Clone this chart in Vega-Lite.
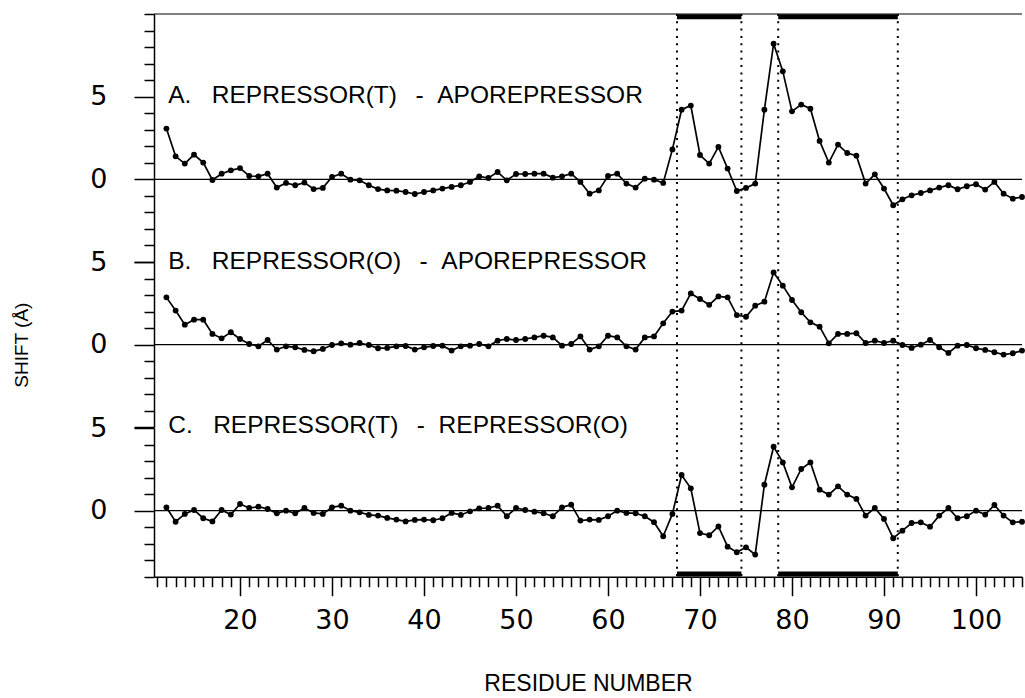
{
  "$schema": "https://vega.github.io/schema/vega-lite/v6.json",
  "autosize": {"type": "pad"},
  "padding": {"left": 12, "top": 0, "right": 0, "bottom": 0},
  "background": "white",
  "spacing": 0,
  "bounds": "flush",
  "config": {
    "view": {"stroke": null},
    "axis": {"labelFont": "DejaVu Sans", "labelFontSize": 27, "labelColor": "black", "labelOverlap": false, "labelBound": false, "labelFlush": false,
             "domainColor": "black", "domainWidth": 1.5, "tickColor": "black", "tickWidth": 1.5, "grid": false,
             "titleFont": "Liberation Sans", "titleFontWeight": "normal", "titleColor": "black"},
    "axisX": {"titleFontSize": 23, "titlePadding": 39},
    "axisY": {"titleFontSize": 19, "titlePadding": 58}
  },
  "datasets": {
    "A": [
      {"residue":12,"shift":3.07},{"residue":13,"shift":1.39},{"residue":14,"shift":0.95},{"residue":15,"shift":1.49},{"residue":16,"shift":1.01},{"residue":17,"shift":-0.04},{"residue":18,"shift":0.34},{"residue":19,"shift":0.54},{"residue":20,"shift":0.68},{"residue":21,"shift":0.2},{"residue":22,"shift":0.18},{"residue":23,"shift":0.34},{"residue":24,"shift":-0.5},{"residue":25,"shift":-0.22},{"residue":26,"shift":-0.36},{"residue":27,"shift":-0.2},{"residue":28,"shift":-0.59},{"residue":29,"shift":-0.52},{"residue":30,"shift":0.14},{"residue":31,"shift":0.34},{"residue":32,"shift":-0.02},{"residue":33,"shift":-0.06},{"residue":34,"shift":-0.36},{"residue":35,"shift":-0.59},{"residue":36,"shift":-0.67},{"residue":37,"shift":-0.69},{"residue":38,"shift":-0.77},{"residue":39,"shift":-0.89},{"residue":40,"shift":-0.77},{"residue":41,"shift":-0.67},{"residue":42,"shift":-0.56},{"residue":43,"shift":-0.46},{"residue":44,"shift":-0.36},{"residue":45,"shift":-0.16},{"residue":46,"shift":0.18},{"residue":47,"shift":0.08},{"residue":48,"shift":0.44},{"residue":49,"shift":-0.06},{"residue":50,"shift":0.32},{"residue":51,"shift":0.32},{"residue":52,"shift":0.34},{"residue":53,"shift":0.34},{"residue":54,"shift":0.1},{"residue":55,"shift":0.18},{"residue":56,"shift":0.34},{"residue":57,"shift":-0.16},{"residue":58,"shift":-0.87},{"residue":59,"shift":-0.67},{"residue":60,"shift":0.2},{"residue":61,"shift":0.34},{"residue":62,"shift":-0.26},{"residue":63,"shift":-0.5},{"residue":64,"shift":0.04},{"residue":65,"shift":-0.02},{"residue":66,"shift":-0.22},{"residue":67,"shift":1.81},{"residue":68,"shift":4.21},{"residue":69,"shift":4.46},{"residue":70,"shift":1.47},{"residue":71,"shift":0.95},{"residue":72,"shift":1.96},{"residue":73,"shift":0.65},{"residue":74,"shift":-0.71},{"residue":75,"shift":-0.52},{"residue":76,"shift":-0.26},{"residue":77,"shift":4.21},{"residue":78,"shift":8.2},{"residue":79,"shift":6.53},{"residue":80,"shift":4.11},{"residue":81,"shift":4.52},{"residue":82,"shift":4.27},{"residue":83,"shift":2.32},{"residue":84,"shift":1.01},{"residue":85,"shift":2.1},{"residue":86,"shift":1.59},{"residue":87,"shift":1.43},{"residue":88,"shift":-0.26},{"residue":89,"shift":0.3},{"residue":90,"shift":-0.56},{"residue":91,"shift":-1.57},{"residue":92,"shift":-1.21},{"residue":93,"shift":-0.97},{"residue":94,"shift":-0.83},{"residue":95,"shift":-0.67},{"residue":96,"shift":-0.5},{"residue":97,"shift":-0.36},{"residue":98,"shift":-0.6},{"residue":99,"shift":-0.42},{"residue":100,"shift":-0.3},{"residue":101,"shift":-0.62},{"residue":102,"shift":-0.16},{"residue":103,"shift":-0.87},{"residue":104,"shift":-1.17},{"residue":105,"shift":-1.07}
    ],
    "B": [
      {"residue":12,"shift":2.86},{"residue":13,"shift":2.06},{"residue":14,"shift":1.21},{"residue":15,"shift":1.51},{"residue":16,"shift":1.51},{"residue":17,"shift":0.65},{"residue":18,"shift":0.38},{"residue":19,"shift":0.75},{"residue":20,"shift":0.34},{"residue":21,"shift":0.04},{"residue":22,"shift":-0.1},{"residue":23,"shift":0.28},{"residue":24,"shift":-0.3},{"residue":25,"shift":-0.1},{"residue":26,"shift":-0.16},{"residue":27,"shift":-0.32},{"residue":28,"shift":-0.4},{"residue":29,"shift":-0.26},{"residue":30,"shift":-0.02},{"residue":31,"shift":0.08},{"residue":32,"shift":0.0},{"residue":33,"shift":0.1},{"residue":34,"shift":-0.02},{"residue":35,"shift":-0.22},{"residue":36,"shift":-0.2},{"residue":37,"shift":-0.1},{"residue":38,"shift":-0.08},{"residue":39,"shift":-0.3},{"residue":40,"shift":-0.16},{"residue":41,"shift":-0.08},{"residue":42,"shift":-0.06},{"residue":43,"shift":-0.36},{"residue":44,"shift":-0.1},{"residue":45,"shift":-0.06},{"residue":46,"shift":0.04},{"residue":47,"shift":-0.1},{"residue":48,"shift":0.24},{"residue":49,"shift":0.34},{"residue":50,"shift":0.28},{"residue":51,"shift":0.34},{"residue":52,"shift":0.44},{"residue":53,"shift":0.54},{"residue":54,"shift":0.44},{"residue":55,"shift":-0.06},{"residue":56,"shift":0.04},{"residue":57,"shift":0.5},{"residue":58,"shift":-0.3},{"residue":59,"shift":-0.1},{"residue":60,"shift":0.54},{"residue":61,"shift":0.44},{"residue":62,"shift":-0.1},{"residue":63,"shift":-0.3},{"residue":64,"shift":0.44},{"residue":65,"shift":0.5},{"residue":66,"shift":1.29},{"residue":67,"shift":2.0},{"residue":68,"shift":2.06},{"residue":69,"shift":3.1},{"residue":70,"shift":2.76},{"residue":71,"shift":2.41},{"residue":72,"shift":2.92},{"residue":73,"shift":2.86},{"residue":74,"shift":1.79},{"residue":75,"shift":1.69},{"residue":76,"shift":2.36},{"residue":77,"shift":2.6},{"residue":78,"shift":4.37},{"residue":79,"shift":3.57},{"residue":80,"shift":2.7},{"residue":81,"shift":1.96},{"residue":82,"shift":1.35},{"residue":83,"shift":1.09},{"residue":84,"shift":0.08},{"residue":85,"shift":0.65},{"residue":86,"shift":0.65},{"residue":87,"shift":0.69},{"residue":88,"shift":0.1},{"residue":89,"shift":0.24},{"residue":90,"shift":0.1},{"residue":91,"shift":0.24},{"residue":92,"shift":-0.02},{"residue":93,"shift":-0.2},{"residue":94,"shift":0.0},{"residue":95,"shift":0.28},{"residue":96,"shift":-0.16},{"residue":97,"shift":-0.5},{"residue":98,"shift":-0.06},{"residue":99,"shift":-0.02},{"residue":100,"shift":-0.22},{"residue":101,"shift":-0.32},{"residue":102,"shift":-0.46},{"residue":103,"shift":-0.6},{"residue":104,"shift":-0.52},{"residue":105,"shift":-0.36}
    ],
    "C": [
      {"residue":12,"shift":0.2},{"residue":13,"shift":-0.67},{"residue":14,"shift":-0.2},{"residue":15,"shift":0.04},{"residue":16,"shift":-0.46},{"residue":17,"shift":-0.65},{"residue":18,"shift":0.04},{"residue":19,"shift":-0.24},{"residue":20,"shift":0.4},{"residue":21,"shift":0.16},{"residue":22,"shift":0.24},{"residue":23,"shift":0.1},{"residue":24,"shift":-0.16},{"residue":25,"shift":0.0},{"residue":26,"shift":-0.16},{"residue":27,"shift":0.16},{"residue":28,"shift":-0.14},{"residue":29,"shift":-0.2},{"residue":30,"shift":0.2},{"residue":31,"shift":0.3},{"residue":32,"shift":0.0},{"residue":33,"shift":-0.1},{"residue":34,"shift":-0.26},{"residue":35,"shift":-0.3},{"residue":36,"shift":-0.44},{"residue":37,"shift":-0.54},{"residue":38,"shift":-0.65},{"residue":39,"shift":-0.56},{"residue":40,"shift":-0.54},{"residue":41,"shift":-0.58},{"residue":42,"shift":-0.46},{"residue":43,"shift":-0.14},{"residue":44,"shift":-0.26},{"residue":45,"shift":-0.04},{"residue":46,"shift":0.14},{"residue":47,"shift":0.16},{"residue":48,"shift":0.3},{"residue":49,"shift":-0.34},{"residue":50,"shift":0.16},{"residue":51,"shift":0.04},{"residue":52,"shift":-0.06},{"residue":53,"shift":-0.16},{"residue":54,"shift":-0.34},{"residue":55,"shift":0.2},{"residue":56,"shift":0.36},{"residue":57,"shift":-0.6},{"residue":58,"shift":-0.54},{"residue":59,"shift":-0.56},{"residue":60,"shift":-0.34},{"residue":61,"shift":0.0},{"residue":62,"shift":-0.14},{"residue":63,"shift":-0.16},{"residue":64,"shift":-0.34},{"residue":65,"shift":-0.7},{"residue":66,"shift":-1.55},{"residue":67,"shift":-0.2},{"residue":68,"shift":2.16},{"residue":69,"shift":1.35},{"residue":70,"shift":-1.36},{"residue":71,"shift":-1.49},{"residue":72,"shift":-0.96},{"residue":73,"shift":-2.18},{"residue":74,"shift":-2.52},{"residue":75,"shift":-2.22},{"residue":76,"shift":-2.66},{"residue":77,"shift":1.57},{"residue":78,"shift":3.87},{"residue":79,"shift":2.92},{"residue":80,"shift":1.41},{"residue":81,"shift":2.52},{"residue":82,"shift":2.92},{"residue":83,"shift":1.27},{"residue":84,"shift":0.97},{"residue":85,"shift":1.47},{"residue":86,"shift":0.97},{"residue":87,"shift":0.71},{"residue":88,"shift":-0.3},{"residue":89,"shift":0.16},{"residue":90,"shift":-0.5},{"residue":91,"shift":-1.67},{"residue":92,"shift":-1.21},{"residue":93,"shift":-0.75},{"residue":94,"shift":-0.71},{"residue":95,"shift":-0.97},{"residue":96,"shift":-0.3},{"residue":97,"shift":0.16},{"residue":98,"shift":-0.46},{"residue":99,"shift":-0.34},{"residue":100,"shift":0.0},{"residue":101,"shift":-0.24},{"residue":102,"shift":0.34},{"residue":103,"shift":-0.3},{"residue":104,"shift":-0.71},{"residue":105,"shift":-0.67}
    ],
    "bounds": [{"b":67.5},{"b":74.5},{"b":78.5},{"b":91.5}],
    "segments": [{"start":67.5,"end":74.5},{"start":78.5,"end":91.5}]
  },
  "vconcat": [
    {
      "width": 868, "height": 247.95,
      "layer": [
        {"data": {"name": "A"}, "mark": {"type": "line", "color": "black", "strokeWidth": 1.7},
         "encoding": {
           "x": {"field": "residue", "type": "quantitative", "scale": {"domain": [10.65, 105.0], "nice": false, "zero": false}, "axis": null},
           "y": {"field": "shift", "type": "quantitative", "title": null, "scale": {"domain": [-5, 10], "nice": false, "zero": false},
                 "axis": {"values": [-5,-4,-3,-2,-1,0,1,2,3,4,5,6,7,8,9,10], "labelExpr": "datum.value === 0 || datum.value === 5 ? datum.label : ''", "tickSize": {"condition": {"test": "datum.value === 0 || datum.value === 5 || datum.value === -5", "value": 20}, "value": 10}, "labelPadding": 27}}}},
        {"data": {"name": "A"}, "mark": {"type": "circle", "color": "black", "opacity": 1, "size": 34},
         "encoding": {
           "x": {"field": "residue", "type": "quantitative", "axis": null},
           "y": {"field": "shift", "type": "quantitative", "title": null,
                 "axis": {"values": [-5,-4,-3,-2,-1,0,1,2,3,4,5,6,7,8,9,10], "labelExpr": "datum.value === 0 || datum.value === 5 ? datum.label : ''", "tickSize": {"condition": {"test": "datum.value === 0 || datum.value === 5 || datum.value === -5", "value": 20}, "value": 10}, "labelPadding": 27}}}},
        {"data": {"values": [{"y": 0}, {"y": 10}]}, "mark": {"type": "rule", "color": "black", "strokeWidth": 1.2},
         "encoding": {
           "y": {"field": "y", "type": "quantitative", "title": null,
                 "axis": {"values": [-5,-4,-3,-2,-1,0,1,2,3,4,5,6,7,8,9,10], "labelExpr": "datum.value === 0 || datum.value === 5 ? datum.label : ''", "tickSize": {"condition": {"test": "datum.value === 0 || datum.value === 5 || datum.value === -5", "value": 20}, "value": 10}, "labelPadding": 27}}}},
        {"data": {"name": "bounds"}, "mark": {"type": "rule", "color": "black", "strokeWidth": 2, "strokeDash": [2, 5.3]},
         "encoding": {"x": {"field": "b", "type": "quantitative", "axis": null}}},
        {"data": {"name": "segments"}, "mark": {"type": "rule", "color": "black", "strokeWidth": 5},
         "encoding": {
           "x": {"field": "start", "type": "quantitative", "axis": null}, "x2": {"field": "end"},
           "y": {"datum": 9.84, "type": "quantitative", "title": null,
                 "axis": {"values": [-5,-4,-3,-2,-1,0,1,2,3,4,5,6,7,8,9,10], "labelExpr": "datum.value === 0 || datum.value === 5 ? datum.label : ''", "tickSize": {"condition": {"test": "datum.value === 0 || datum.value === 5 || datum.value === -5", "value": 20}, "value": 10}, "labelPadding": 27}}}},
        {"data": {"values": [{"label": "A.\u00a0\u00a0\u00a0REPRESSOR(T)\u00a0\u00a0\u2009-\u00a0\u00a0APOREPRESSOR"}]},
         "mark": {"type": "text", "align": "left", "baseline": "middle", "font": "Liberation Sans", "fontSize": 24.5, "color": "black"},
         "encoding": {
           "x": {"datum": 12.2, "type": "quantitative", "axis": null},
           "y": {"datum": 5.05, "type": "quantitative", "title": null,
                 "axis": {"values": [-5,-4,-3,-2,-1,0,1,2,3,4,5,6,7,8,9,10], "labelExpr": "datum.value === 0 || datum.value === 5 ? datum.label : ''", "tickSize": {"condition": {"test": "datum.value === 0 || datum.value === 5 || datum.value === -5", "value": 20}, "value": 10}, "labelPadding": 27}},
           "text": {"field": "label"}}}
      ]
    },
    {
      "width": 868, "height": 165.3,
      "layer": [
        {"data": {"name": "B"}, "mark": {"type": "line", "color": "black", "strokeWidth": 1.7},
         "encoding": {
           "x": {"field": "residue", "type": "quantitative", "scale": {"domain": [10.65, 105.0], "nice": false, "zero": false}, "axis": null},
           "y": {"field": "shift", "type": "quantitative", "title": "SHIFT (Å)", "scale": {"domain": [-5, 5], "nice": false, "zero": false},
                 "axis": {"values": [-5,-4,-3,-2,-1,0,1,2,3,4,5], "labelExpr": "datum.value === 0 || datum.value === 5 ? datum.label : ''", "tickSize": {"condition": {"test": "datum.value % 5 === 0", "value": 20}, "value": 10}, "labelPadding": 27}}}},
        {"data": {"name": "B"}, "mark": {"type": "circle", "color": "black", "opacity": 1, "size": 34},
         "encoding": {
           "x": {"field": "residue", "type": "quantitative", "axis": null},
           "y": {"field": "shift", "type": "quantitative", "title": "SHIFT (Å)",
                 "axis": {"values": [-5,-4,-3,-2,-1,0,1,2,3,4,5], "labelExpr": "datum.value === 0 || datum.value === 5 ? datum.label : ''", "tickSize": {"condition": {"test": "datum.value % 5 === 0", "value": 20}, "value": 10}, "labelPadding": 27}}}},
        {"data": {"values": [{"y": 0}]}, "mark": {"type": "rule", "color": "black", "strokeWidth": 1.2},
         "encoding": {
           "y": {"field": "y", "type": "quantitative", "title": "SHIFT (Å)",
                 "axis": {"values": [-5,-4,-3,-2,-1,0,1,2,3,4,5], "labelExpr": "datum.value === 0 || datum.value === 5 ? datum.label : ''", "tickSize": {"condition": {"test": "datum.value % 5 === 0", "value": 20}, "value": 10}, "labelPadding": 27}}}},
        {"data": {"name": "bounds"}, "mark": {"type": "rule", "color": "black", "strokeWidth": 2, "strokeDash": [2, 5.3]},
         "encoding": {"x": {"field": "b", "type": "quantitative", "axis": null}}},
        {"data": {"values": [{"label": "B.\u00a0\u00a0\u00a0REPRESSOR(O)\u00a0\u00a0\u2009-\u00a0\u00a0APOREPRESSOR"}]},
         "mark": {"type": "text", "align": "left", "baseline": "middle", "font": "Liberation Sans", "fontSize": 24.5, "color": "black"},
         "encoding": {
           "x": {"datum": 12.2, "type": "quantitative", "axis": null},
           "y": {"datum": 5.0, "type": "quantitative", "title": "SHIFT (Å)",
                 "axis": {"values": [-5,-4,-3,-2,-1,0,1,2,3,4,5], "labelExpr": "datum.value === 0 || datum.value === 5 ? datum.label : ''", "tickSize": {"condition": {"test": "datum.value % 5 === 0", "value": 20}, "value": 10}, "labelPadding": 27}},
           "text": {"field": "label"}}}
      ]
    },
    {
      "width": 868, "height": 148.75,
      "layer": [
        {"data": {"name": "C"}, "mark": {"type": "line", "color": "black", "strokeWidth": 1.7},
         "encoding": {
           "x": {"field": "residue", "type": "quantitative", "title": "RESIDUE NUMBER", "scale": {"domain": [10.65, 105.0], "nice": false, "zero": false},
                 "axis": {"values": [11,12,13,14,15,16,17,18,19,20,21,22,23,24,25,26,27,28,29,30,31,32,33,34,35,36,37,38,39,40,41,42,43,44,45,46,47,48,49,50,51,52,53,54,55,56,57,58,59,60,61,62,63,64,65,66,67,68,69,70,71,72,73,74,75,76,77,78,79,80,81,82,83,84,85,86,87,88,89,90,91,92,93,94,95,96,97,98,99,100,101,102,103,104,105], "labelExpr": "datum.value % 10 === 0 ? datum.label : ''", "tickSize": {"condition": {"test": "datum.value % 10 === 0", "value": 19}, "value": 10}, "labelPadding": 12}},
           "y": {"field": "shift", "type": "quantitative", "title": null, "scale": {"domain": [-4, 5], "nice": false, "zero": false},
                 "axis": {"values": [-4,-3,-2,-1,0,1,2,3,4,5], "labelExpr": "datum.value === 0 || datum.value === 5 ? datum.label : ''", "tickSize": {"condition": {"test": "datum.value % 5 === 0", "value": 20}, "value": 10}, "labelPadding": 27}}}},
        {"data": {"name": "C"}, "mark": {"type": "circle", "color": "black", "opacity": 1, "size": 34},
         "encoding": {
           "x": {"field": "residue", "type": "quantitative", "title": "RESIDUE NUMBER",
                 "axis": {"values": [11,12,13,14,15,16,17,18,19,20,21,22,23,24,25,26,27,28,29,30,31,32,33,34,35,36,37,38,39,40,41,42,43,44,45,46,47,48,49,50,51,52,53,54,55,56,57,58,59,60,61,62,63,64,65,66,67,68,69,70,71,72,73,74,75,76,77,78,79,80,81,82,83,84,85,86,87,88,89,90,91,92,93,94,95,96,97,98,99,100,101,102,103,104,105], "labelExpr": "datum.value % 10 === 0 ? datum.label : ''", "tickSize": {"condition": {"test": "datum.value % 10 === 0", "value": 19}, "value": 10}, "labelPadding": 12}},
           "y": {"field": "shift", "type": "quantitative", "title": null,
                 "axis": {"values": [-4,-3,-2,-1,0,1,2,3,4,5], "labelExpr": "datum.value === 0 || datum.value === 5 ? datum.label : ''", "tickSize": {"condition": {"test": "datum.value % 5 === 0", "value": 20}, "value": 10}, "labelPadding": 27}}}},
        {"data": {"values": [{"y": 0}]}, "mark": {"type": "rule", "color": "black", "strokeWidth": 1.2},
         "encoding": {
           "y": {"field": "y", "type": "quantitative", "title": null,
                 "axis": {"values": [-4,-3,-2,-1,0,1,2,3,4,5], "labelExpr": "datum.value === 0 || datum.value === 5 ? datum.label : ''", "tickSize": {"condition": {"test": "datum.value % 5 === 0", "value": 20}, "value": 10}, "labelPadding": 27}}}},
        {"data": {"name": "bounds"}, "mark": {"type": "rule", "color": "black", "strokeWidth": 2, "strokeDash": [2, 5.3]},
         "encoding": {
           "x": {"field": "b", "type": "quantitative", "title": "RESIDUE NUMBER",
                 "axis": {"values": [11,12,13,14,15,16,17,18,19,20,21,22,23,24,25,26,27,28,29,30,31,32,33,34,35,36,37,38,39,40,41,42,43,44,45,46,47,48,49,50,51,52,53,54,55,56,57,58,59,60,61,62,63,64,65,66,67,68,69,70,71,72,73,74,75,76,77,78,79,80,81,82,83,84,85,86,87,88,89,90,91,92,93,94,95,96,97,98,99,100,101,102,103,104,105], "labelExpr": "datum.value % 10 === 0 ? datum.label : ''", "tickSize": {"condition": {"test": "datum.value % 10 === 0", "value": 19}, "value": 10}, "labelPadding": 12}}}},
        {"data": {"name": "segments"}, "mark": {"type": "rule", "color": "black", "strokeWidth": 5},
         "encoding": {
           "x": {"field": "start", "type": "quantitative", "title": "RESIDUE NUMBER",
                 "axis": {"values": [11,12,13,14,15,16,17,18,19,20,21,22,23,24,25,26,27,28,29,30,31,32,33,34,35,36,37,38,39,40,41,42,43,44,45,46,47,48,49,50,51,52,53,54,55,56,57,58,59,60,61,62,63,64,65,66,67,68,69,70,71,72,73,74,75,76,77,78,79,80,81,82,83,84,85,86,87,88,89,90,91,92,93,94,95,96,97,98,99,100,101,102,103,104,105], "labelExpr": "datum.value % 10 === 0 ? datum.label : ''", "tickSize": {"condition": {"test": "datum.value % 10 === 0", "value": 19}, "value": 10}, "labelPadding": 12}},
           "x2": {"field": "end"},
           "y": {"datum": -3.84, "type": "quantitative", "title": null,
                 "axis": {"values": [-4,-3,-2,-1,0,1,2,3,4,5], "labelExpr": "datum.value === 0 || datum.value === 5 ? datum.label : ''", "tickSize": {"condition": {"test": "datum.value % 5 === 0", "value": 20}, "value": 10}, "labelPadding": 27}}}},
        {"data": {"values": [{"label": "C.\u00a0\u00a0\u00a0REPRESSOR(T)\u00a0\u00a0\u2009-\u00a0\u00a0REPRESSOR(O)"}]},
         "mark": {"type": "text", "align": "left", "baseline": "middle", "font": "Liberation Sans", "fontSize": 24.5, "color": "black"},
         "encoding": {
           "x": {"datum": 12.2, "type": "quantitative", "title": "RESIDUE NUMBER",
                 "axis": {"values": [11,12,13,14,15,16,17,18,19,20,21,22,23,24,25,26,27,28,29,30,31,32,33,34,35,36,37,38,39,40,41,42,43,44,45,46,47,48,49,50,51,52,53,54,55,56,57,58,59,60,61,62,63,64,65,66,67,68,69,70,71,72,73,74,75,76,77,78,79,80,81,82,83,84,85,86,87,88,89,90,91,92,93,94,95,96,97,98,99,100,101,102,103,104,105], "labelExpr": "datum.value % 10 === 0 ? datum.label : ''", "tickSize": {"condition": {"test": "datum.value % 10 === 0", "value": 19}, "value": 10}, "labelPadding": 12}},
           "y": {"datum": 5.1, "type": "quantitative", "title": null,
                 "axis": {"values": [-4,-3,-2,-1,0,1,2,3,4,5], "labelExpr": "datum.value === 0 || datum.value === 5 ? datum.label : ''", "tickSize": {"condition": {"test": "datum.value % 5 === 0", "value": 20}, "value": 10}, "labelPadding": 27}},
           "text": {"field": "label"}}}
      ]
    }
  ]
}
